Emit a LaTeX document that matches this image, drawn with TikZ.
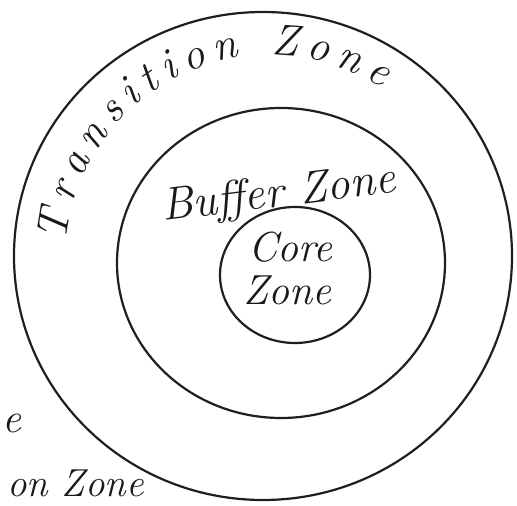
\documentclass[tikz,border=0pt]{standalone}
\usepackage{fontspec}
\usetikzlibrary{decorations.text}
\begin{document}
\begin{tikzpicture}[x=1pt,y=1pt,
  zone/.style={draw=black!88, line width=2.2pt},
  lbl/.style={font=\fontsize{42}{42}\selectfont\itshape, inner sep=0pt, text=black!90}]
\useasboundingbox (0,0) rectangle (517,506);
\clip (0,0) rectangle (517,506);
\fill[white] (0,0) rectangle (517,506);
% zones
\draw[zone] (263,250) ellipse [x radius=249, y radius=244];
\draw[zone] (281,243) ellipse [x radius=164, y radius=155];
\draw[zone] (295,231) ellipse [x radius=75, y radius=68];
% curved label
\path[decorate, decoration={text along path, text align=fit to path,
   text format delimiters={|}{|},
   text={|\fontsize{44}{44}\selectfont\itshape\color{black!90}|Transition Zone}}]
   (270,246) ++(175:205) arc[start angle=175, end angle=57, radius=205];
% labels
\node[lbl, rotate=7, anchor=base west, font=\fontsize{46}{46}\selectfont\itshape] (buffer) at (163,285) {Buffer Zone};
\node[lbl, anchor=base west] (core) at (248,244) {Core};
\node[lbl, anchor=base west] (corezone) at (243,201) {Zone};
\node[lbl, anchor=base east, font=\fontsize{39}{39}\selectfont\itshape] (cutzone) at (144,9) {on Zone};
\node[lbl, anchor=base east] (cute) at (22,73) {e};
\end{tikzpicture}
\end{document}
